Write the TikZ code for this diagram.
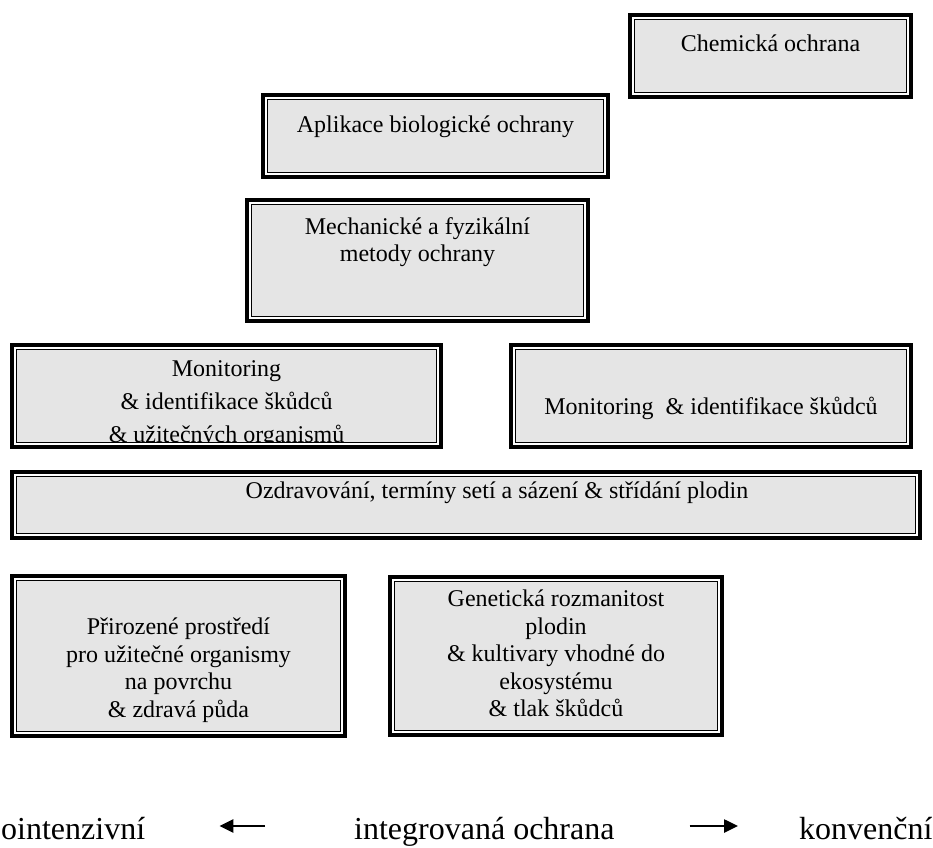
\documentclass[tikz,border=0pt]{standalone}
\usepackage{fontspec}
\setmainfont{Liberation Serif}
\usetikzlibrary{arrows.meta, positioning}
\definecolor{seda}{RGB}{229,229,229}
\newcommand{\pismo}{\fontsize{24}{27}\selectfont}
\newcommand{\velke}{\fontsize{32}{36}\selectfont}
\tikzset{
  pole/.style={rectangle, draw=black, fill=seda, line width=1.75pt,
               inner sep=0pt, outer sep=0pt, anchor=north west},
  obruba/.style={draw=black, line width=3.5pt},
  popis/.style={align=center, inner sep=0pt, font=\pismo,
                execute at begin node=\strut},
  dole/.style={inner sep=0pt, font=\velke, text height=26pt, text depth=0pt,
               anchor=base west},
  sipka/.style={-{Triangle[length=14pt, width=13pt]}, line width=2.6pt}
}

\begin{document}
\begin{tikzpicture}[x=1pt, y=-1pt]
  \useasboundingbox (0,0) rectangle (933,847);
  \clip (0,0) rectangle (933,847);
  \node[pole, minimum width=272.2pt, minimum height=73.2pt]  (chem)   at (634.4,19.4)  {};
  \node[pole, minimum width=336.2pt, minimum height=73.2pt]  (apl)    at (267.4,99.4)  {};
  \node[pole, minimum width=332.2pt, minimum height=112.2pt] (mech)   at (251.4,204.4) {};
  \node[pole, minimum width=420.2pt, minimum height=93.2pt]  (mon1)   at (16.4,349.4)  {};
  \node[pole, minimum width=391.2pt, minimum height=93.2pt]  (mon2)   at (515.4,349.4) {};
  \node[pole, minimum width=899.2pt, minimum height=57.2pt]  (ozd)    at (16.4,476.4)  {};
  \node[pole, minimum width=324.2pt, minimum height=151.2pt] (priroz) at (16.4,580.4)  {};
  \node[pole, minimum width=323.2pt, minimum height=149.2pt] (genet)  at (394.4,581.4) {};
  \foreach \n in {chem,apl,mech,mon1,mon2,ozd,priroz,genet}
    \draw[obruba] ([shift={(-4.6pt,4.6pt)}]\n.north west) rectangle ([shift={(4.6pt,-4.6pt)}]\n.south east);

  \node[popis, below=12.7pt of chem.north] (chem-t) {Chemická ochrana};
  \node[popis, below=14pt of apl.north] (apl-t) {Aplikace biologické ochrany};
  \node[popis, below=12.7pt of mech.north] (mech-t) {Mechanické a fyzikální\\metody ochrany};
  \begin{scope}
    \clip ([shift={(0.9pt,-0.9pt)}]mon1.north west) rectangle ([shift={(-0.9pt,0.9pt)}]mon1.south east);
    \node[popis, font=\fontsize{24}{33}\selectfont, below=10.5pt of mon1.north] (mon1-t)
      {Monitoring\\\& identifikace škůdců\\\& užitečných organismů};
  \end{scope}
  \node[popis, below=45.7pt of mon2.north] (mon2-t) {Monitoring\ \ \& identifikace škůdců};
  \node[popis, below=3pt of ozd.north, xshift=31pt] (ozd-t)
    {Ozdravování, termíny setí a sázení \& střídání plodin};
  \begin{scope}
    \clip ([shift={(0.9pt,-0.9pt)}]priroz.north west) rectangle ([shift={(-0.9pt,0.9pt)}]priroz.south east);
    \node[popis, font=\fontsize{24}{27.7}\selectfont, below=37.2pt of priroz.north] (priroz-t)
      {Přirozené prostředí\\pro užitečné organismy\\na povrchu\\\& zdravá půda};
  \end{scope}
  \node[popis, font=\fontsize{24}{27.5}\selectfont, below=8.4pt of genet.north] (genet-t)
    {Genetická rozmanitost\\plodin\\\& kultivary vhodné do\\ekosystému\\\& tlak škůdců};

  \node[dole] (oint)  at (1,839)   {ointenzivní};
  \node[dole] (integ) at (354,839) {integrovaná ochrana};
  \node[dole] (konv)  at (799,839) {konvenční};
  \draw[sipka, shorten <=89pt, shorten >=74pt] (integ.west) -- (oint.east);
  \draw[sipka, shorten <=75pt, shorten >=61pt] (integ.east) -- (konv.west);
\end{tikzpicture}
\end{document}
